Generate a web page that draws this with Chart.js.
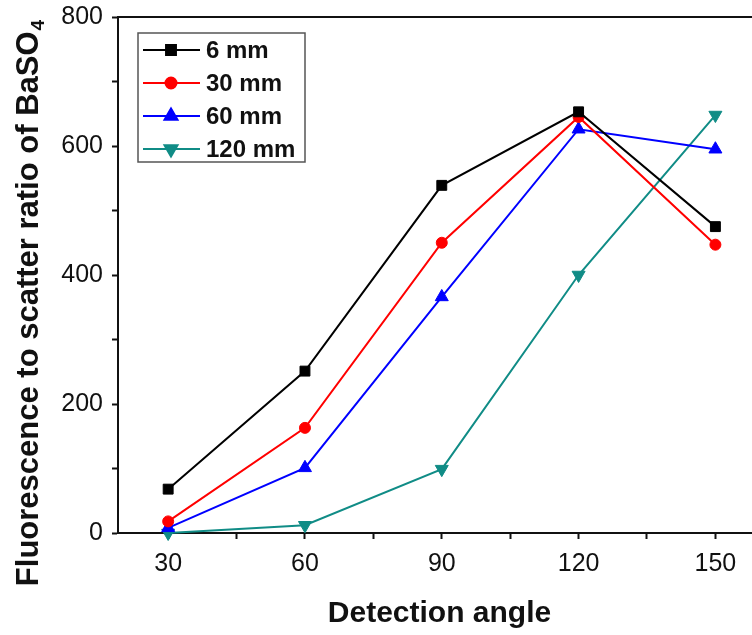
<!DOCTYPE html>
<html>
<head>
<meta charset="utf-8">
<script src="https://cdn.jsdelivr.net/npm/chart.js@4/dist/chart.umd.min.js"></script>
<style>
  html, body { margin: 0; padding: 0; background: #fff; }
  body { width: 752px; height: 635px; overflow: hidden; }
  canvas { display: block; }
</style>
</head>
<body>
<canvas id="chart" width="770" height="635" style="width:770px;height:635px"></canvas>
<script>
const angles = [30, 60, 90, 120, 150];
const mm6 = [68, 251, 539, 653, 475];
const mm30 = [18, 163, 450, 645, 447];
const mm60 = [8, 101, 366, 626, 595];
const mm120 = [0, 12, 99, 400, 648];

const xTicks = [30, 45, 60, 75, 90, 105, 120, 135, 150];
const xLabels = [30, 60, 90, 120, 150];
const yTicks = [0, 100, 200, 300, 400, 500, 600, 700, 800];
const yLabels = [0, 200, 400, 600, 800];

const seriesNames = ['6 mm', '30 mm', '60 mm', '120 mm'];
const seriesColors = ['#000000', '#ff0000', '#0000ff', '#108c86'];
const seriesStyles = ['rect', 'circle', 'triangle', 'triangle'];
const seriesRot = [0, 0, 0, 180];
const seriesRadius = [7, 5.5, 7.5, 7.5];

const yTitleMain = 'Fluorescence to scatter ratio of BaSO';
const yTitleSub = '4';

const font = '"Liberation Sans", Arial, sans-serif';

const toPoints = vals => vals.map((v, i) => ({ x: angles[i], y: v }));
const allData = [mm6, mm30, mm60, mm120];

const datasets = allData.map((vals, i) => ({
    label: seriesNames[i],
    data: toPoints(vals),
    borderColor: seriesColors[i],
    backgroundColor: seriesColors[i],
    pointBackgroundColor: seriesColors[i],
    pointBorderColor: seriesColors[i],
    pointStyle: seriesStyles[i],
    rotation: seriesRot[i],
    pointRadius: seriesRadius[i],
    pointBorderWidth: 1,
    borderWidth: 2,
    tension: 0,
    clip: false,
}));

// legend box drawn inside plot, Origin style
const boxLegend = {
    id: 'boxLegend',
    afterDraw(chart) {
        const ctx = chart.ctx;
        const bx = 138, by = 33, bw = 167, bh = 129;
        ctx.save();
        ctx.strokeStyle = '#555';
        ctx.lineWidth = 1.5;
        ctx.strokeRect(bx, by, bw, bh);
        ctx.font = 'bold 24px ' + font;
        ctx.textBaseline = 'middle';
        chart.data.datasets.forEach((ds, i) => {
            const y = 50 + i * 33;
            ctx.strokeStyle = ds.borderColor;
            ctx.fillStyle = ds.borderColor;
            ctx.lineWidth = 2;
            ctx.beginPath();
            ctx.moveTo(143, y);
            ctx.lineTo(200, y);
            ctx.stroke();
            Chart.helpers.drawPoint(ctx, {
                pointStyle: ds.pointStyle, rotation: ds.rotation,
                radius: ds.pointRadius, borderWidth: 1
            }, 171, y);
            ctx.fillStyle = '#111';
            ctx.fillText(ds.label, 206, y + 1);
        });
        ctx.restore();
    }
};

// top frame line + y title with a real subscript
const frameAndTitle = {
    id: 'frameAndTitle',
    afterDraw(chart) {
        const { ctx, chartArea } = chart;
        ctx.save();
        ctx.strokeStyle = '#111';
        ctx.lineWidth = 2;
        ctx.beginPath();
        ctx.moveTo(chartArea.left, chartArea.top);
        ctx.lineTo(chartArea.right, chartArea.top);
        ctx.stroke();

        ctx.fillStyle = '#111';
        ctx.textBaseline = 'alphabetic';
        ctx.font = 'bold 31px ' + font;
        const wMain = ctx.measureText(yTitleMain).width;
        ctx.font = 'bold 19px ' + font;
        const wSub = ctx.measureText(yTitleSub).width;
        const total = wMain + wSub + 1;
        ctx.translate(38, 303);
        ctx.rotate(-Math.PI / 2);
        ctx.font = 'bold 31px ' + font;
        ctx.fillText(yTitleMain, -total / 2, 0);
        ctx.font = 'bold 19px ' + font;
        ctx.fillText(yTitleSub, -total / 2 + wMain + 1, 6);
        ctx.restore();
    }
};

new Chart(document.getElementById('chart'), {
    type: 'line',
    data: { datasets },
    plugins: [boxLegend, frameAndTitle],
    options: {
        responsive: false,
        animation: false,
        layout: { padding: { left: 8, top: 17, right: 9, bottom: 3 } },
        plugins: { legend: { display: false }, tooltip: { enabled: false } },
        scales: {
            x: {
                type: 'linear',
                min: 19, max: 160,
                afterBuildTicks: s => { s.ticks = xTicks.map(v => ({ value: v })); },
                afterFit: s => { s.height = 99; s.paddingLeft = 0; s.paddingRight = 0; },
                ticks: {
                    autoSkip: false, maxRotation: 0,
                    color: '#111', padding: 10,
                    font: { family: font, size: 25 },
                    callback: v => xLabels.includes(v) ? String(v) : ''
                },
                grid: { drawOnChartArea: false, drawTicks: true, tickLength: 6, tickWidth: 2, tickColor: '#111' },
                border: { display: true, color: '#111', width: 2 },
                title: {
                    display: true, text: 'Detection angle', color: '#111',
                    font: { family: font, size: 30, weight: 'bold' },
                    padding: { top: 3, bottom: 0 }
                }
            },
            y: {
                type: 'linear',
                min: 0, max: 800,
                afterBuildTicks: s => { s.ticks = yTicks.map(v => ({ value: v })); },
                afterFit: s => { s.width = 110; s.paddingTop = 0; s.paddingBottom = 0; },
                ticks: {
                    autoSkip: false, color: '#111', padding: 9,
                    font: { family: font, size: 25 },
                    callback: v => yLabels.includes(v) ? String(v) : ''
                },
                grid: { drawOnChartArea: false, drawTicks: true, tickLength: 6, tickWidth: 2, tickColor: '#111' },
                border: { display: true, color: '#111', width: 2 },
                title: { display: false }
            }
        }
    }
});
</script>
</body>
</html>
